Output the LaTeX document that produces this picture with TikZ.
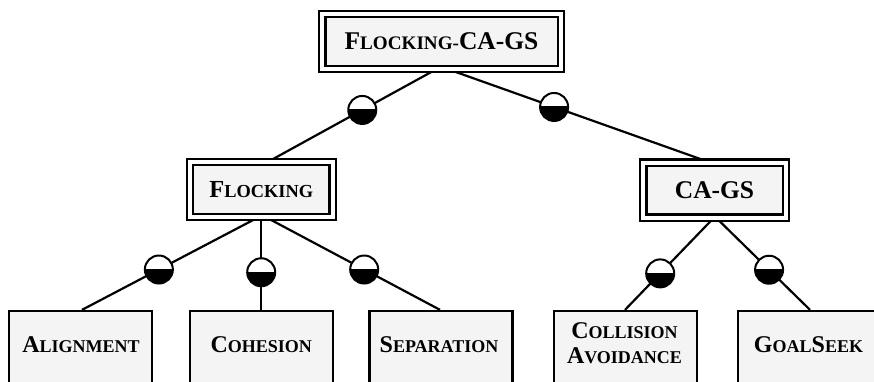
\documentclass[tikz,border=0pt]{standalone}
\usepackage{fontspec}
\setmainfont{Liberation Serif}
\usetikzlibrary{backgrounds}
\definecolor{boxfill}{RGB}{244,244,244}
\newcommand\smc[1]{\scalebox{0.75}{#1}}
\begin{document}
\begin{tikzpicture}[x=1pt,y=-1pt,
  lbl/.style={font=\bfseries\fontsize{24}{25}\selectfont, align=center, inner sep=0pt},
  dbox/.style={draw, double, double distance=4pt, line width=2.3pt, fill=boxfill,
    minimum width=142.6pt, minimum height=55pt, inner sep=0pt, align=center,
    font=\bfseries\fontsize{24.5}{26}\selectfont},
  bigtext/.style={font=\bfseries\fontsize{25.5}{27}\selectfont},
  leafbox/.style={draw, line width=2.3pt, fill=boxfill, minimum width=143pt,
    minimum height=90pt, inner sep=0pt},
  conn/.style={line width=2.2pt},
  half/.style={circle, draw, line width=2pt, fill=white, minimum size=28pt, inner sep=0pt,
    path picture={\fill[black] (path picture bounding box.west) rectangle (path picture bounding box.south east);
      \draw[line width=1.2pt] (path picture bounding box.west) -- (path picture bounding box.east);}}
]
\useasboundingbox (0,0) rectangle (874,381);

\node[dbox, bigtext, minimum width=238.6pt] (root) at (441.5,41.3) {F\smc{LOCKING-}CA-GS};
\node[dbox] (flock) at (261.2,189.5) {F\smc{LOCKING}};
\node[dbox, bigtext] (cags) at (714.5,190) {CA-GS};

\node[leafbox] (alig) at (80.5,356) {};
\node[leafbox] (cohe) at (261.2,356) {};
\node[leafbox] (sepa) at (441,356) {};
\node[leafbox] (coll) at (625.5,356) {};
\node[leafbox] (goal) at (809.5,356) {};

\node[lbl] (aligt) at (81,344.5) {A\smc{LIGNMENT}};
\node[lbl] (cohet) at (261.2,344.5) {C\smc{OHESION}};
\node[lbl] (sepat) at (439,344.5) {S\smc{EPARATION}};
\node[lbl] (collt) at (624.5,343.5) {C\smc{OLLISION}\\A\smc{VOIDANCE}};
\node[lbl] (goalt) at (808.5,344.5) {G\smc{OAL}S\smc{EEK}};

\begin{scope}[on background layer]
\draw[conn] ([xshift=-6.5pt]root.south) -- node[half,pos=0.44] (h1) {} ([xshift=8.5pt]flock.north);
\draw[conn] ([xshift=8.5pt]root.south) -- node[half,pos=0.405] (h2) {} ([xshift=-7.5pt]cags.north);
\draw[conn] ([xshift=-4.5pt]flock.south) -- node[half,pos=0.56] (h3) {} ([xshift=1.5pt]alig.north);
\draw[conn] (flock.south) -- node[half,pos=0.59] (h4) {} (cohe.north);
\draw[conn] ([xshift=6.5pt]flock.south) -- node[half,pos=0.56] (h5) {} ([xshift=-1pt]sepa.north);
\draw[conn] ([xshift=-1.5pt]cags.south) -- node[half,pos=0.6] (h6) {} ([xshift=-0.5pt]coll.north);
\draw[conn] ([xshift=2.5pt]cags.south) -- node[half,pos=0.56] (h7) {} ([xshift=0.5pt]goal.north);
\end{scope}
\end{tikzpicture}
\end{document}
